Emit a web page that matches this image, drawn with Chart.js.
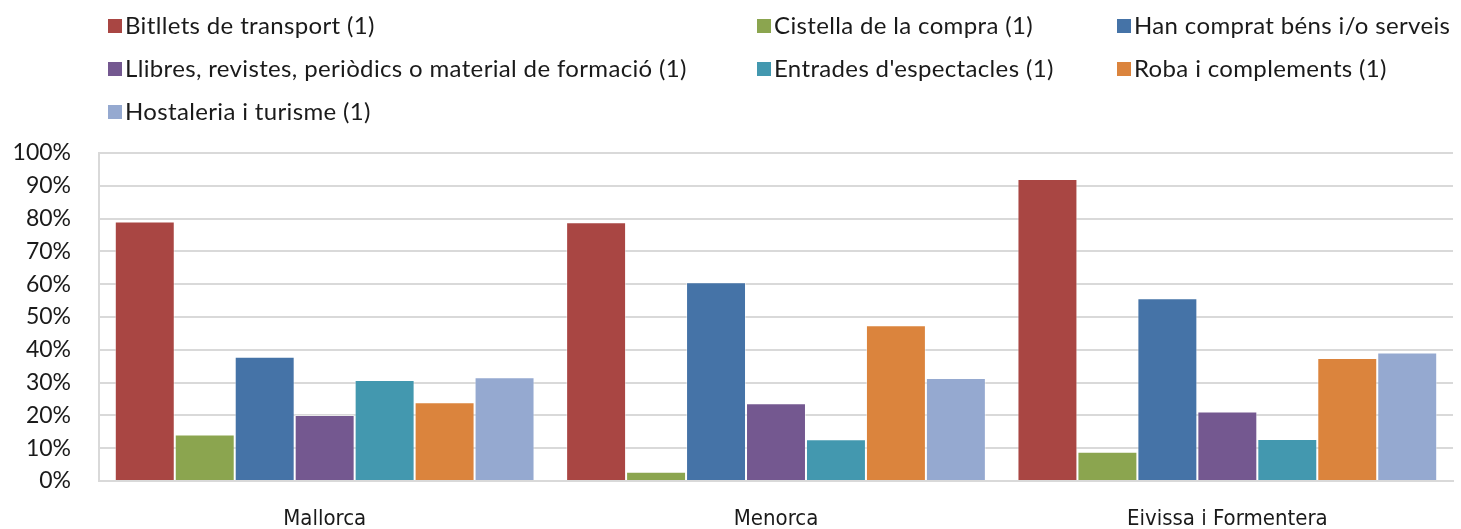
<!DOCTYPE html>
<html>
<head>
<meta charset="utf-8">
<script src="https://cdn.jsdelivr.net/npm/chart.js@4.4.1/dist/chart.umd.min.js"></script>
<style>
  html, body { margin: 0; padding: 0; background: #fff; }
  #wrap { position: relative; width: 1461px; height: 529px; }
  #grafic { position: absolute; left: 0; top: 0; }
  #llegenda { position: absolute; left: 0; top: 0; width: 1461px; height: 140px; font-family: Lato, sans-serif; font-size: 24px; letter-spacing: 0.35px; color: #1a1a1a; }
  .item { position: absolute; white-space: nowrap; line-height: 28px; }
  .item span.caixa { display: inline-block; width: 14px; height: 14px; margin-right: 3px; vertical-align: 1px; }
</style>
</head>
<body>
<div id="wrap">
  <canvas id="grafic" width="1461" height="529"></canvas>
  <div id="llegenda"></div>
</div>
<script>
// Dades
const illes = ['Mallorca', 'Menorca', 'Eivissa i Formentera'];
const series = [
  'Bitllets de transport (1)',
  'Cistella de la compra (1)',
  'Han comprat béns i/o serveis',
  'Llibres, revistes, periòdics o material de formació (1)',
  "Entrades d'espectacles (1)",
  'Roba i complements (1)',
  'Hostaleria i turisme (1)'
];
const bitllets   = [79.1, 78.9, 92.1];
const cistella   = [14.2, 2.8, 8.9];
const hanComprat = [37.9, 60.6, 55.7];
const llibres    = [20.1, 23.7, 21.2];
const entrades   = [30.8, 12.7, 12.8];
const roba       = [24.0, 47.5, 37.5];
const hostaleria = [31.6, 31.4, 39.2];
const valors = [bitllets, cistella, hanComprat, llibres, entrades, roba, hostaleria];
const colors = ['#A94643', '#8BA54F', '#4573A7', '#745890', '#4398AF', '#DB843D', '#95A9D0'];

// posicions de la llegenda (3 columnes)
const colX = [108, 757, 1117];
const filaY = [11, 54, 97];

const datasets = series.map((nom, i) => ({
  label: nom,
  data: valors[i],
  backgroundColor: colors[i],
  borderColor: 'rgba(255,255,255,0.45)',
  borderWidth: 1,
  categoryPercentage: 0.93,
  barPercentage: 1.0
}));

const chart = new Chart(document.getElementById('grafic'), {
  type: 'bar',
  data: { labels: illes, datasets: datasets },
  options: {
    responsive: false,
    animation: false,
    layout: { padding: { top: 153, right: 8, left: 0, bottom: 0 } },
    plugins: { legend: { display: false }, tooltip: { enabled: false } },
    scales: {
      x: {
        grid: { display: false, drawTicks: false },
        border: { color: '#d9d9d9', width: 2 },
        ticks: { color: '#1a1a1a', padding: 25, font: { family: "'DejaVu Sans Condensed', sans-serif", size: 22 } },
        afterFit: s => { s.height = 48; }
      },
      y: {
        min: 0, max: 100,
        ticks: { stepSize: 10, color: '#1a1a1a', padding: 28, font: { family: 'Lato, sans-serif', size: 23 }, callback: v => v + '%' },
        grid: { color: '#d9d9d9', lineWidth: 2, drawTicks: false },
        border: { color: '#d9d9d9', width: 2 },
        afterFit: s => { s.width = 99; }
      }
    }
  }
});

// llegenda HTML
const llegenda = document.getElementById('llegenda');
chart.data.datasets.forEach((ds, i) => {
  const el = document.createElement('div');
  el.className = 'item';
  el.style.left = colX[i % 3] + 'px';
  el.style.top = filaY[Math.floor(i / 3)] + 'px';
  el.innerHTML = '<span class="caixa" style="background:' + ds.backgroundColor + '"></span>' + ds.label;
  llegenda.appendChild(el);
});
</script>
</body>
</html>
